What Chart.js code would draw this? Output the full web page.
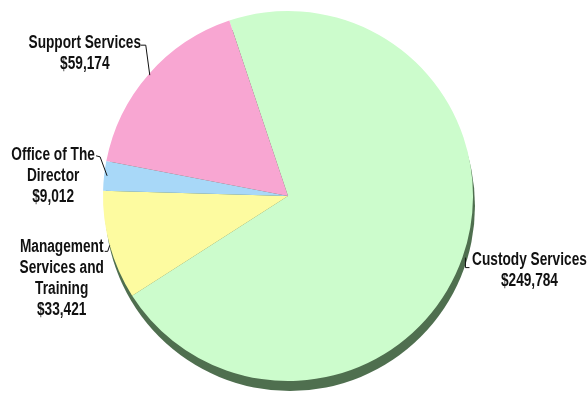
<!DOCTYPE html>
<html>
<head>
<meta charset="utf-8">
<title>Budget by Division</title>
<script src="https://cdn.jsdelivr.net/npm/chart.js@4.4.1/dist/chart.umd.min.js"></script>
<style>
    html, body {
        margin: 0;
        padding: 0;
        background: #ffffff;
    }

    #chartBox {
        position: relative;
        width: 588px;
        height: 399px;
    }
</style>
</head>
<body>
<div id="chartBox">
    <canvas id="budgetChart"></canvas>
</div>

<script>
"use strict";

// slices, clockwise from the top
const categories = [
    "Custody Services",
    "Management Services and Training",
    "Office of The Director",
    "Support Services"
];
const labelLines = [
    ["Custody Services"],
    ["Management", "Services and", "Training"],
    ["Office of The", "Director"],
    ["Support Services"]
];
const amounts = [249784, 33421, 9012, 59174];
const sliceColors = ["#ccfccc", "#fdfba0", "#a8d8f8", "#f8a6d2"];

// where each label sits, relative to the point on the rim at the middle of its slice
const labelPlacement = [
    { dx: 67, dy: 7, lead: [[3, 0], [3, 10], [7, 10]] },
    { dx: -48, dy: 7, lead: [[0, 0], [-2, 6], [-5, 6]] },
    { dx: -51, dy: -16, lead: [[3, 0], [-4, -19], [-8, -20]] },
    { dx: -64, dy: -26, lead: [[1, 1], [-3, -29], [-8, -29]] }
];

let budgetChart;

document.addEventListener("DOMContentLoaded", () => {
    initializeChart();
});

function formatMoney(value) {
    return "$" + value.toLocaleString("en-US");
}

const pieShadow = {
    id: "pieShadow",
    beforeDatasetsDraw(chart) {
        const arc = chart.getDatasetMeta(0).data[0];
        if (!arc) return;

        const ctx = chart.ctx;
        ctx.save();
        ctx.fillStyle = "#4f6f4f";
        ctx.beginPath();
        ctx.arc(arc.x + 2, arc.y + 10, arc.outerRadius, 0, Math.PI * 2);
        ctx.fill();
        ctx.restore();
    }
};

const sliceLabels = {
    id: "sliceLabels",
    afterDatasetsDraw(chart) {
        const ctx = chart.ctx;
        const arcs = chart.getDatasetMeta(0).data;

        ctx.save();
        ctx.fillStyle = "#111111";
        ctx.strokeStyle = "#111111";
        ctx.lineWidth = 1;
        ctx.font = "bold 18px 'Liberation Sans', Arial, sans-serif";
        ctx.textAlign = "center";
        ctx.textBaseline = "alphabetic";

        arcs.forEach((arc, i) => {
            const mid = (arc.startAngle + arc.endAngle) / 2;
            const ex = arc.x + arc.outerRadius * Math.cos(mid);
            const ey = arc.y + arc.outerRadius * Math.sin(mid);
            const place = labelPlacement[i];

            ctx.beginPath();
            place.lead.forEach(([px, py], k) => {
                if (k === 0) ctx.moveTo(ex + px, ey + py);
                else ctx.lineTo(ex + px, ey + py);
            });
            ctx.stroke();

            const lines = labelLines[i].concat([formatMoney(amounts[i])]);
            lines.forEach((line, k) => {
                ctx.save();
                ctx.translate(ex + place.dx, ey + place.dy + k * 21);
                ctx.scale(0.76, 1);
                ctx.fillText(line, 0, 0);
                ctx.restore();
            });
        });

        ctx.restore();
    }
};

function initializeChart() {
    const canvas = document.getElementById("budgetChart");

    if (!canvas) {
        console.warn("budgetChart canvas not found.");
        return;
    }

    budgetChart = new Chart(canvas, {
        type: "pie",
        data: {
            labels: categories,
            datasets: [
                {
                    data: amounts,
                    backgroundColor: sliceColors,
                    borderWidth: 0,
                    hoverOffset: 0
                }
            ]
        },
        options: {
            responsive: true,
            maintainAspectRatio: false,
            animation: false,
            rotation: -18.5,
            radius: 185,
            layout: {
                padding: { top: 0, bottom: 7, left: 0, right: 12 }
            },
            plugins: {
                legend: { display: false },
                tooltip: { enabled: false }
            }
        },
        plugins: [pieShadow, sliceLabels]
    });
}
</script>
</body>
</html>
